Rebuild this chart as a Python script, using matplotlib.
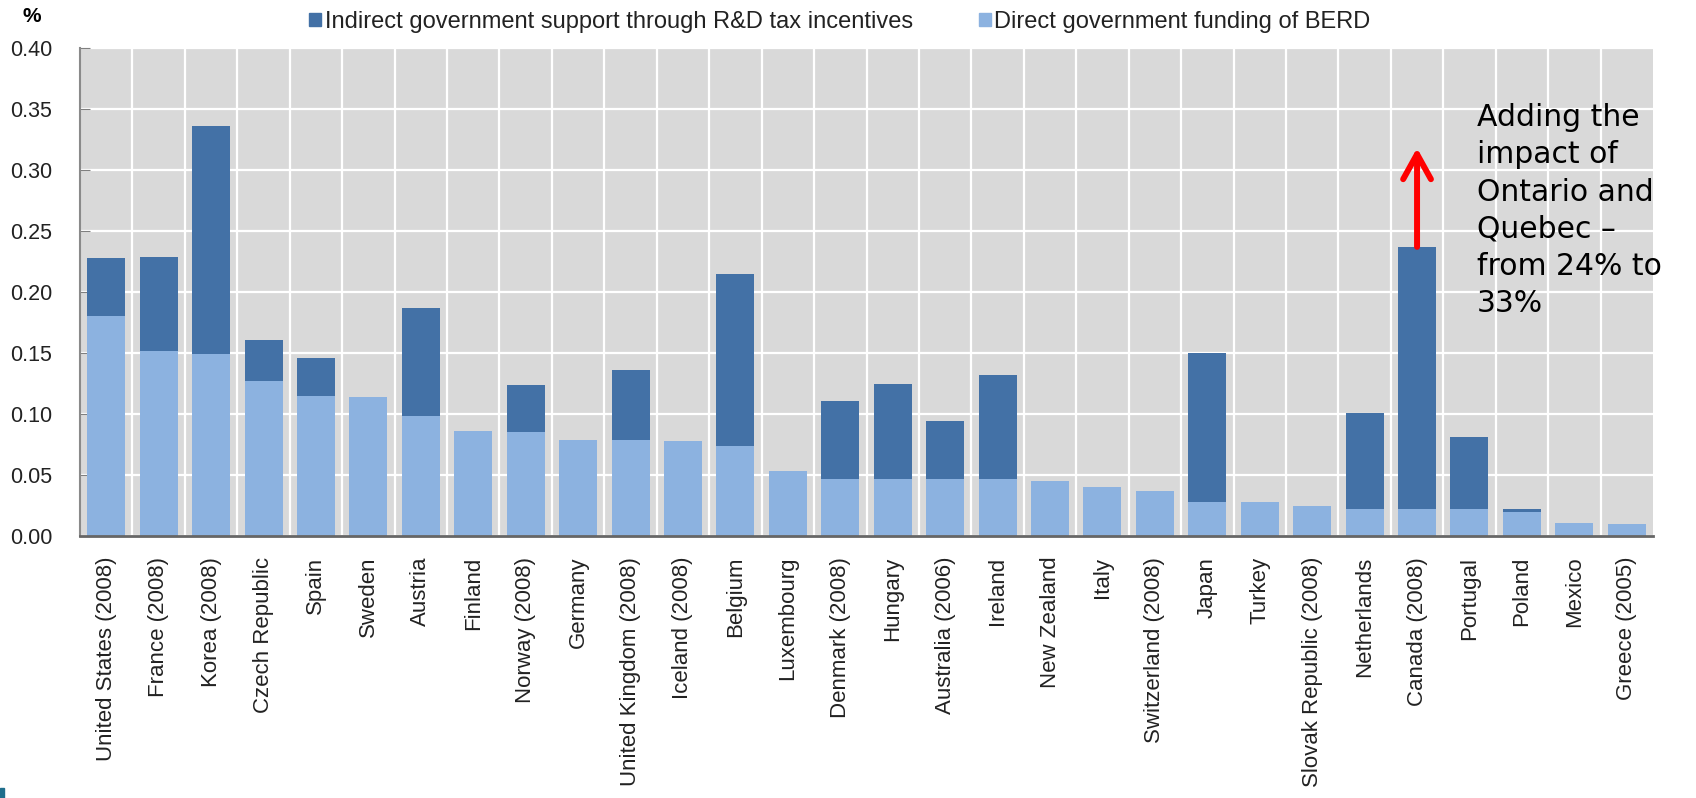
import matplotlib
matplotlib.use("Agg")
import matplotlib.pyplot as plt
from matplotlib.patches import Patch, Rectangle
import numpy as np

plt.rcParams['font.family'] = ['Liberation Sans', 'DejaVu Sans']

countries = ["United States (2008)", "France (2008)", "Korea (2008)", "Czech Republic",
             "Spain", "Sweden", "Austria", "Finland", "Norway (2008)", "Germany",
             "United Kingdom (2008)", "Iceland (2008)", "Belgium", "Luxembourg",
             "Denmark (2008)", "Hungary", "Australia (2006)", "Ireland", "New Zealand",
             "Italy", "Switzerland (2008)", "Japan", "Turkey", "Slovak Republic (2008)",
             "Netherlands", "Canada (2008)", "Portugal", "Poland", "Mexico", "Greece (2005)"]

# direct government funding of BERD (% of GDP)
direct = [0.180, 0.152, 0.149, 0.127, 0.115, 0.114, 0.098, 0.086, 0.085, 0.079,
          0.079, 0.078, 0.074, 0.053, 0.047, 0.047, 0.047, 0.047, 0.045, 0.040,
          0.037, 0.028, 0.028, 0.025, 0.022, 0.022, 0.022, 0.020, 0.011, 0.010]

# indirect support through R&D tax incentives
indirect = [0.048, 0.077, 0.187, 0.034, 0.031, 0.0, 0.089, 0.0, 0.039, 0.0,
            0.057, 0.0, 0.141, 0.0, 0.064, 0.078, 0.047, 0.085, 0.0, 0.0,
            0.0, 0.122, 0.0, 0.0, 0.079, 0.215, 0.059, 0.002, 0.0, 0.0]

canada_idx = countries.index("Canada (2008)")
canada_with_provinces = 0.318

DARK = '#4371A6'
LIGHT = '#8CB2E0'

fig = plt.figure(figsize=(16.96, 7.98), dpi=100)
ax = fig.add_axes([80/1696, 1 - 536/798, (1653 - 80)/1696, (536 - 48)/798])
ax.set_facecolor('#D9D9D9')

x = np.arange(len(countries))
ax.bar(x, direct, width=0.725, color=LIGHT, zorder=2)
ax.bar(x, indirect, bottom=direct, width=0.725, color=DARK, zorder=2)

ax.set_xlim(-0.5, len(countries) - 0.5)
ax.set_ylim(0, 0.40)
ax.set_yticks(np.arange(0, 0.41, 0.05))
ax.set_yticklabels(['%.2f' % v for v in np.arange(0, 0.41, 0.05)], fontsize=15.5, color='#222222')
ax.set_xticks(x)
ax.set_xticklabels(countries, rotation=90, fontsize=16, color='#222222')
ax.set_xticks(np.arange(0.5, len(countries) - 1, 1), minor=True)

ax.tick_params(axis='x', which='both', length=0, pad=15)
ax.tick_params(axis='y', direction='in', length=7, color='#7f7f7f', pad=20)

ax.set_axisbelow(True)
ax.grid(axis='y', which='major', color='white', lw=1.6)
ax.grid(axis='x', which='minor', color='white', lw=1.6)

for s in ['top', 'right']:
    ax.spines[s].set_visible(False)
ax.spines['left'].set_color('#8a8a8a')
ax.spines['left'].set_linewidth(1.5)
ax.spines['bottom'].set_color('#666666')
ax.spines['bottom'].set_linewidth(2)

handles = [Patch(color=DARK, label='Indirect government support through R&D tax incentives'),
           Patch(color=LIGHT, label='Direct government funding of BERD')]
fig.legend(handles=handles, loc='center', bbox_to_anchor=(840/1696, 1 - 22/798), ncol=2,
           frameon=False, fontsize=17, handlelength=0.5, handleheight=0.5,
           handletextpad=0.15, columnspacing=2.8, borderpad=0, labelcolor='#222222')

fig.text(32/1696, 1 - 16/798, '%', fontsize=15, weight='bold', ha='center', va='center')

# arrow showing Canada incl. Ontario and Quebec
ax.annotate('', xy=(canada_idx, canada_with_provinces),
            xytext=(canada_idx, direct[canada_idx] + indirect[canada_idx]),
            arrowprops=dict(arrowstyle='->,head_length=0.45,head_width=0.25',
                            color='red', lw=4.3, mutation_scale=40,
                            shrinkA=0, shrinkB=0, capstyle='round'))

fig.text(1477/1696, 1 - 103/798,
         'Adding the\nimpact of\nOntario and\nQuebec \u2013\nfrom 24% to\n33%',
         family='DejaVu Sans', fontsize=21.5, ha='left', va='top', linespacing=1.36)

fig.patches.append(Rectangle((0, 0), 4/1696, 10/798, transform=fig.transFigure,
                             color='#1F6E8C', figure=fig))

fig.savefig('out.png', dpi=100)
